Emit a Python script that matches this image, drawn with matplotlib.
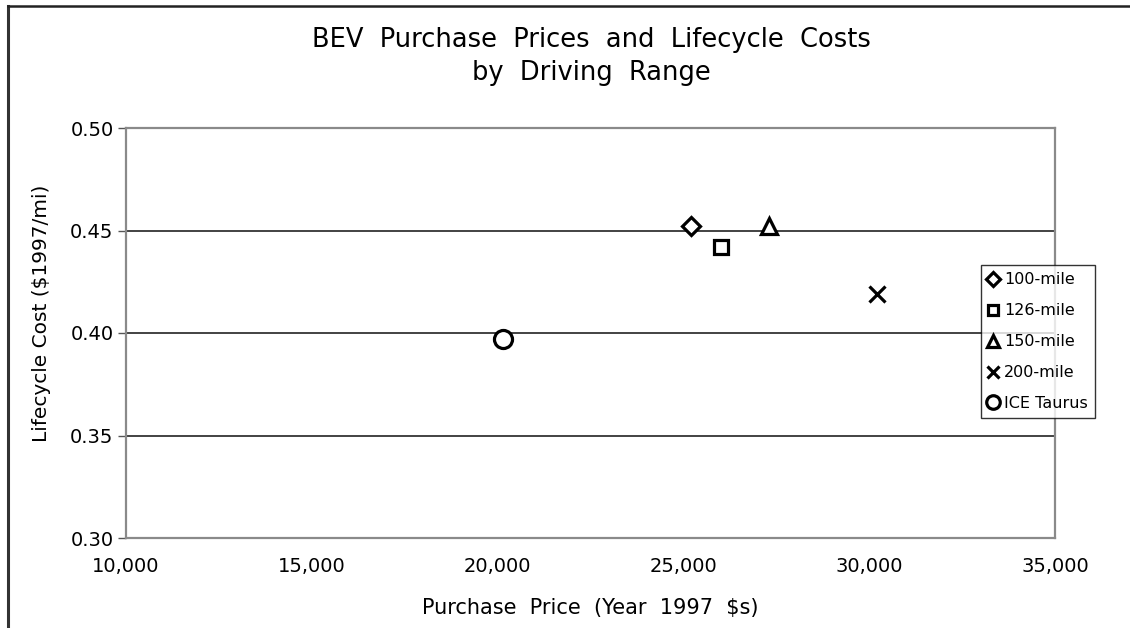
import matplotlib
matplotlib.use("Agg")
import matplotlib.pyplot as plt
from matplotlib.lines import Line2D
from matplotlib.ticker import FuncFormatter

# Vehicle options: purchase price (1997 $) and lifecycle cost (1997 $/mi)
labels = ["100-mile", "126-mile", "150-mile", "200-mile", "ICE Taurus"]
purchase_price = [25200, 26000, 27300, 30200, 20150]
lifecycle_cost = [0.452, 0.442, 0.452, 0.419, 0.397]
markers = ["D", "s", "^", "x", "o"]
marker_sizes = [9, 9.5, 11, 12, 13]

x_ticks = [10000, 15000, 20000, 25000, 30000, 35000]
y_ticks = [0.30, 0.35, 0.40, 0.45, 0.50]

plt.rcParams["font.family"] = ["DejaVu Sans"]

W, H = 1130, 628
fig = plt.figure(figsize=(W / 100, H / 100), dpi=100)
ax = fig.add_axes([126 / W, 1 - 538 / H, (1055 - 126) / W, (538 - 128) / H])

for px, cy, lab, m, ms in zip(purchase_price, lifecycle_cost, labels, markers, marker_sizes):
    ax.plot([px], [cy], linestyle="none", marker=m, markersize=ms,
            markerfacecolor="white" if m != "x" else "black",
            markeredgecolor="black", markeredgewidth=2.3, label=lab, zorder=3)

ax.set_xlim(x_ticks[0], x_ticks[-1])
ax.set_ylim(y_ticks[0], y_ticks[-1])
ax.set_xticks(x_ticks)
ax.set_yticks(y_ticks)
ax.xaxis.set_major_formatter(FuncFormatter(lambda v, p: f"{int(v):,}"))
ax.yaxis.set_major_formatter(FuncFormatter(lambda v, p: f"{v:.2f}"))
ax.tick_params(axis="y", direction="out", length=6, width=1, color="#555555",
               labelsize=14, pad=3)
ax.tick_params(axis="x", length=0, labelsize=14, pad=14)

ax.grid(axis="y", color="#222222", linewidth=1.2)
ax.set_axisbelow(True)
for side in ["top", "right", "left", "bottom"]:
    ax.spines[side].set_color("#8a8a8a")
    ax.spines[side].set_linewidth(1.6)

# Axis titles and chart title
fig.text(590 / W, 1 - 608 / H, "Purchase  Price  (Year  1997  $s)",
         ha="center", va="center", fontsize=15)
fig.text(42 / W, 1 - 313 / H, "Lifecycle Cost ($1997/mi)",
         ha="center", va="center", rotation=90, fontsize=14.5)
fig.text(591 / W, 1 - 40 / H, "BEV  Purchase  Prices  and  Lifecycle  Costs",
         ha="center", va="center", fontsize=18.5)
fig.text(591 / W, 1 - 73 / H, "by  Driving  Range",
         ha="center", va="center", fontsize=18.5)

leg = ax.legend(loc="upper left", bbox_to_anchor=(981 / W, 1 - 265 / H),
                bbox_transform=fig.transFigure, frameon=True, fancybox=False,
                fontsize=11.5, handlelength=0.55, handletextpad=0.45,
                borderpad=0.45, labelspacing=1.0, borderaxespad=0,
                markerscale=0.75)
leg.get_frame().set_edgecolor("black")
leg.get_frame().set_linewidth(1.0)

# Outer border on the left and top edges of the figure
fig.add_artist(Line2D([8 / W, 8 / W], [0, 1 - 6 / H],
                      transform=fig.transFigure, color="#333333", linewidth=2.2))
fig.add_artist(Line2D([8 / W, 1], [1 - 6 / H, 1 - 6 / H],
                      transform=fig.transFigure, color="#222222", linewidth=1.8))

fig.savefig("out.png", dpi=100)
